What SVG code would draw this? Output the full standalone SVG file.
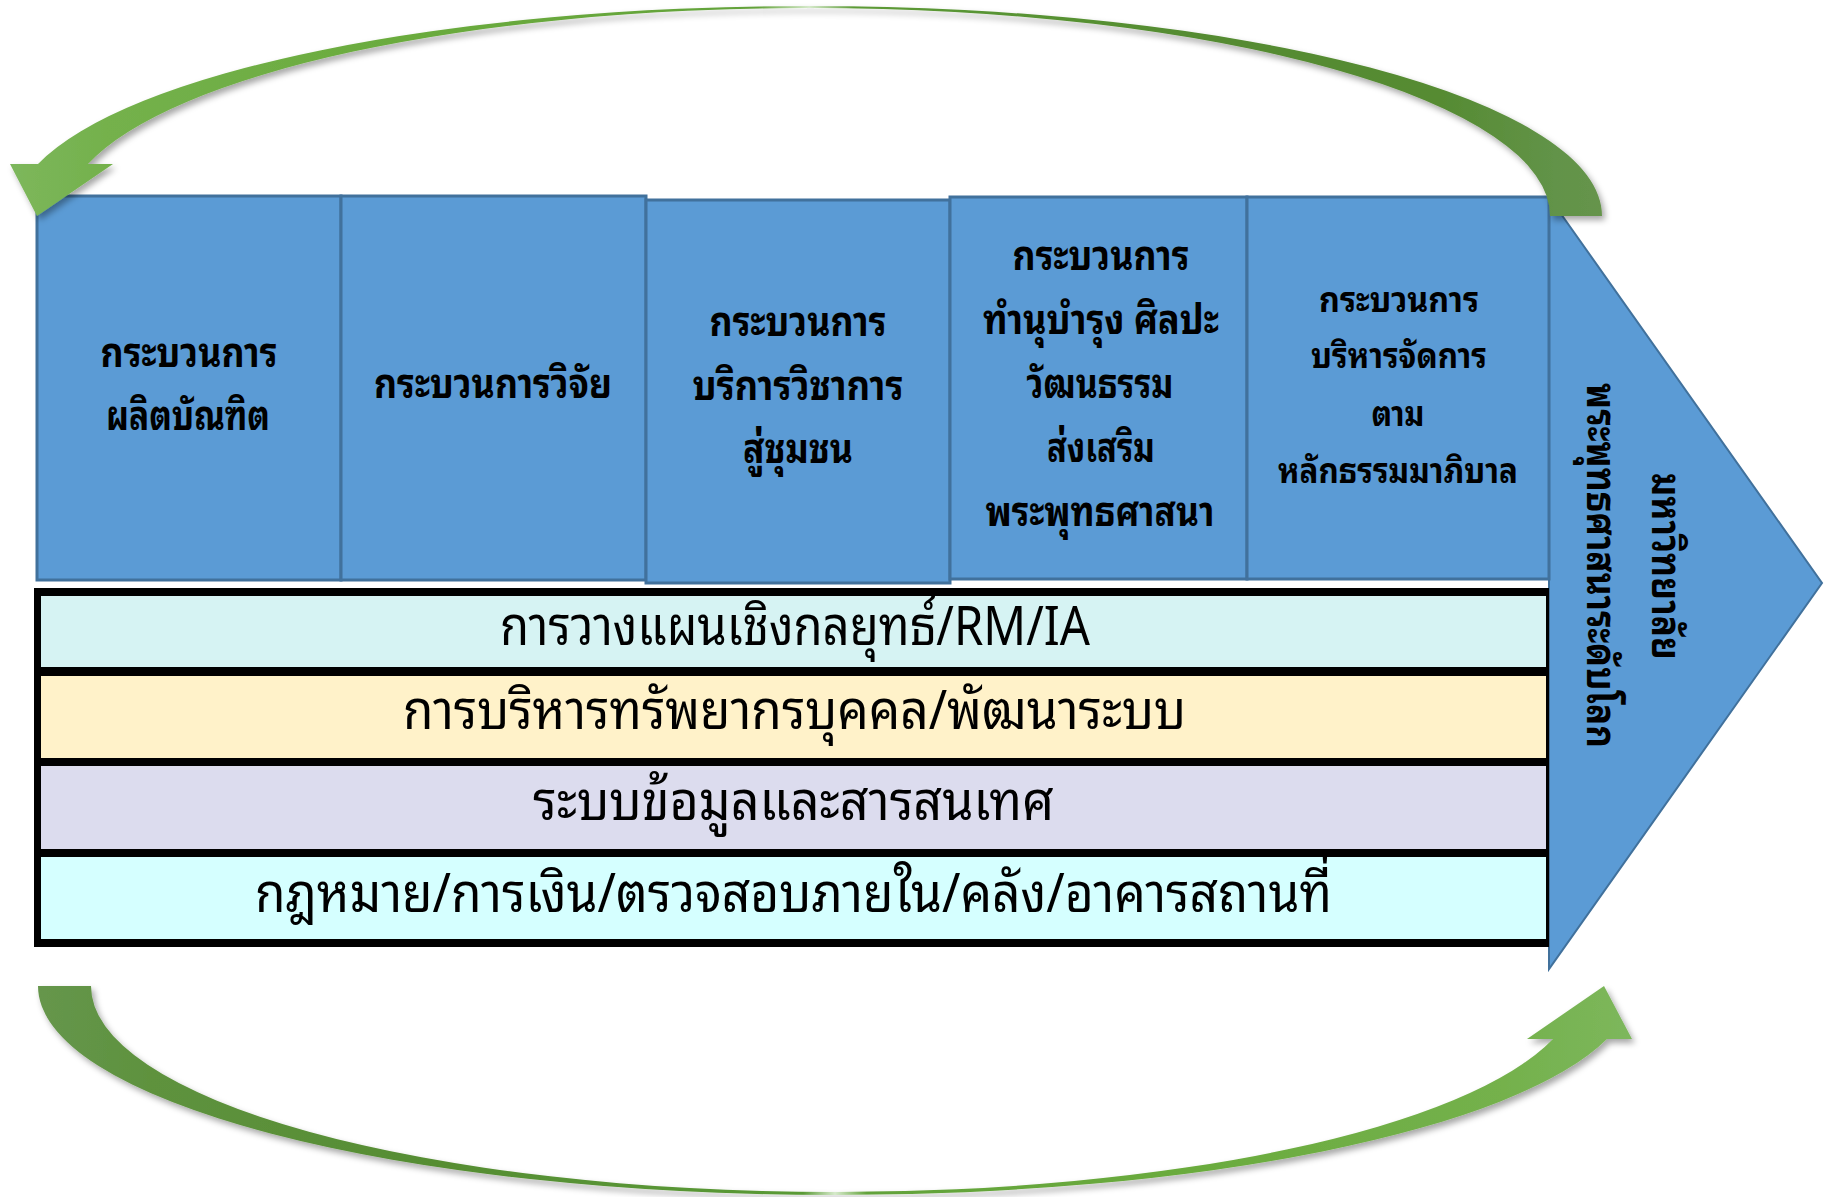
<svg xmlns="http://www.w3.org/2000/svg" width="1831" height="1197" viewBox="0 0 1831 1197">
<defs>
<style>
.box{fill:#5b9bd5;stroke:#41719c;stroke-width:3}
.tri{fill:#5b9bd5;stroke:#41719c;stroke-width:2}
.bt{font-family:'Noto Sans Thai Looped','Loma','Garuda','Norasi','Noto Sans Thai','Noto Sans Thai UI','Noto Sans','DejaVu Sans',sans-serif;font-weight:bold;font-size:41px;text-anchor:middle;fill:#000}
.rt{font-family:'Noto Sans Thai Looped','Loma','Garuda','Norasi','Noto Sans Thai','Noto Sans Thai UI','Noto Sans','DejaVu Sans',sans-serif;font-weight:normal;font-size:55px;text-anchor:middle;fill:#000}
</style>
<filter id="sh" x="-5%" y="-10%" width="110%" height="130%">
<feDropShadow dx="3" dy="4" stdDeviation="3" flood-color="#000" flood-opacity="0.35"/>
</filter>
<linearGradient id="gTop" gradientUnits="userSpaceOnUse" x1="10" y1="0" x2="1602" y2="0">
<stop offset="0" stop-color="#7db75c"/>
<stop offset="0.06" stop-color="#74b14c"/>
<stop offset="0.25" stop-color="#6aab3d"/>
<stop offset="0.47" stop-color="#63a23a"/>
<stop offset="0.502" stop-color="#d6eacb"/>
<stop offset="0.53" stop-color="#5c9a36"/>
<stop offset="0.75" stop-color="#548b31"/>
<stop offset="0.9" stop-color="#568b33"/>
<stop offset="0.97" stop-color="#629348"/>
<stop offset="1" stop-color="#66944c"/>
</linearGradient>
<linearGradient id="gBot" gradientUnits="userSpaceOnUse" x1="38" y1="0" x2="1632" y2="0">
<stop offset="0" stop-color="#66964c"/>
<stop offset="0.07" stop-color="#5e923e"/>
<stop offset="0.25" stop-color="#568d33"/>
<stop offset="0.48" stop-color="#5a9a36"/>
<stop offset="0.5" stop-color="#d6eacb"/>
<stop offset="0.52" stop-color="#62a23a"/>
<stop offset="0.72" stop-color="#6aab3d"/>
<stop offset="0.92" stop-color="#74b14c"/>
<stop offset="1" stop-color="#7db75c"/>
</linearGradient>
</defs>
<rect x="0" y="0" width="1831" height="1197" fill="#ffffff"/>

<g id="chevron">
<polygon class="tri" points="1549,197 1822,583 1549,969"/>
<text class="bt" transform="translate(1652,566.5) rotate(90)" textLength="187" lengthAdjust="spacingAndGlyphs">มหาวิทยาลัย</text>
<text class="bt" transform="translate(1587,565.5) rotate(90)" textLength="365" lengthAdjust="spacingAndGlyphs">พระพุทธศาสนาระดับโลก</text>
</g>

<g id="box1">
<rect class="box" x="37" y="196" width="304" height="384"/>
<text class="bt" x="189" y="367" textLength="177" lengthAdjust="spacingAndGlyphs">กระบวนการ</text>
<text class="bt" x="188" y="430" textLength="164" lengthAdjust="spacingAndGlyphs">ผลิตบัณฑิต</text>
</g>
<g id="box2">
<rect class="box" x="341" y="196" width="305" height="384"/>
<text class="bt" x="493" y="398" textLength="238" lengthAdjust="spacingAndGlyphs">กระบวนการวิจัย</text>
</g>
<g id="box3">
<rect class="box" x="646" y="200" width="304" height="383"/>
<text class="bt" x="798" y="336" textLength="177" lengthAdjust="spacingAndGlyphs">กระบวนการ</text>
<text class="bt" x="798" y="400" textLength="211" lengthAdjust="spacingAndGlyphs">บริการวิชาการ</text>
<text class="bt" x="798" y="463" textLength="110" lengthAdjust="spacingAndGlyphs">สู่ชุมชน</text>
</g>
<g id="box4">
<rect class="box" x="950" y="197" width="297" height="382"/>
<text class="bt" x="1101" y="270" textLength="177" lengthAdjust="spacingAndGlyphs">กระบวนการ</text>
<text class="bt" x="1101" y="334" textLength="236" lengthAdjust="spacingAndGlyphs">ทำนุบำรุง ศิลปะ</text>
<text class="bt" x="1100" y="398" textLength="147" lengthAdjust="spacingAndGlyphs">วัฒนธรรม</text>
<text class="bt" x="1101" y="462" textLength="108" lengthAdjust="spacingAndGlyphs">ส่งเสริม</text>
<text class="bt" x="1100" y="526" textLength="229" lengthAdjust="spacingAndGlyphs">พระพุทธศาสนา</text>
</g>
<g id="box5">
<rect class="box" x="1247" y="197" width="302" height="382"/>
<text class="bt" x="1399" y="312" textLength="160" lengthAdjust="spacingAndGlyphs" style="font-size:35px">กระบวนการ</text>
<text class="bt" x="1399" y="368" textLength="176" lengthAdjust="spacingAndGlyphs" style="font-size:35px">บริหารจัดการ</text>
<text class="bt" x="1398" y="426" textLength="53" lengthAdjust="spacingAndGlyphs" style="font-size:35px">ตาม</text>
<text class="bt" x="1398" y="483" textLength="240" lengthAdjust="spacingAndGlyphs" style="font-size:35px">หลักธรรมมาภิบาล</text>
</g>

<g id="bars">
<rect x="34" y="588" width="1515" height="359" fill="#000"/>
<g id="bar1">
<rect x="41" y="596" width="1505" height="71" fill="#d6f3f3"/>
<text class="rt" x="795" y="645" textLength="590" lengthAdjust="spacingAndGlyphs">การวางแผนเชิงกลยุทธ์/RM/IA</text>
</g>
<g id="bar2">
<rect x="41" y="676" width="1505" height="82" fill="#fff2c9"/>
<text class="rt" x="794.5" y="729" textLength="783" lengthAdjust="spacingAndGlyphs">การบริหารทรัพยากรบุคคล/พัฒนาระบบ</text>
</g>
<g id="bar3">
<rect x="41" y="766" width="1505" height="83" fill="#dcdcee"/>
<text class="rt" x="793.5" y="820" textLength="521" lengthAdjust="spacingAndGlyphs">ระบบข้อมูลและสารสนเทศ</text>
</g>
<g id="bar4">
<rect x="41" y="857" width="1505" height="82" fill="#d5ffff"/>
<text class="rt" x="793.5" y="912" textLength="1077" lengthAdjust="spacingAndGlyphs">กฎหมาย/การเงิน/ตรวจสอบภายใน/คลัง/อาคารสถานที่</text>
</g>
</g>

<g id="connectors">
<path id="arrowTop" filter="url(#sh)" fill="url(#gTop)" d="M 38 164 A 797 210 0 0 1 810 6 A 792 210 0 0 1 1602 216 L 1550 216 A 740 208 0 0 0 810 8 A 746 208 0 0 0 88 164 L 113 164 L 37 216 L 10 164 Z"/>
<path id="arrowBottom" filter="url(#sh)" fill="url(#gBot)" d="M 38 986 A 797 209 0 0 0 835 1195 A 798 209 0 0 0 1607 1039 L 1632 1039 L 1604 986 L 1527 1039 L 1553 1039 A 743 206 0 0 1 835 1192 A 744 206 0 0 1 91 986 Z"/>
</g>
</svg>
